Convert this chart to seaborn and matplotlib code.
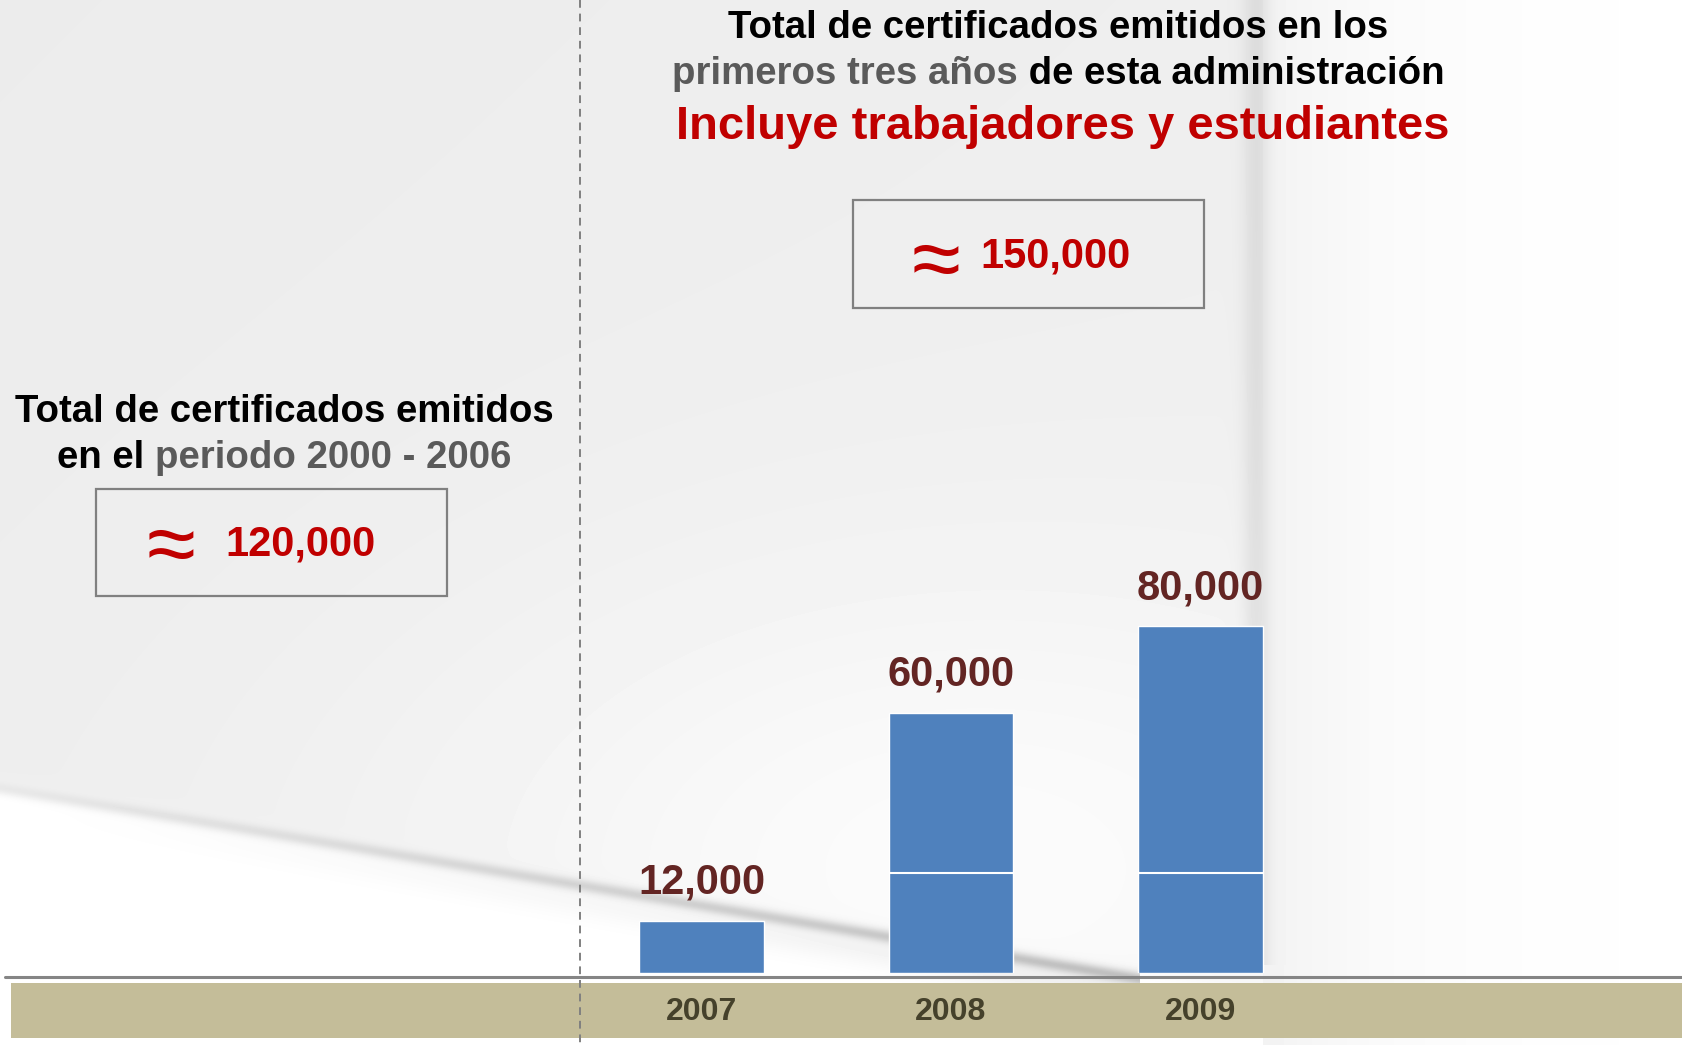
import numpy as np
import matplotlib
matplotlib.use("Agg")
import matplotlib.pyplot as plt
import seaborn as sns
from matplotlib.patches import Rectangle

# ---------------- data ----------------
years = ["2007", "2008", "2009"]
certificates = [12000, 60000, 80000]
split_level = 23000          # white division line seen inside the taller bars
prev_total_label = "120,000"  # 2000-2006
admin_total_label = "150,000"  # first three years

FONT = "Liberation Sans"
RED = "#c00000"
GRAY_TXT = "#5a5a5a"
BAR = "#4f81bd"
MAROON = "#632523"
OLIVE = "#45412b"
TAN = "#c4bd99"

W, H = 1682, 1045
sns.set_theme(style="white")
plt.rcParams["font.family"] = [FONT, "DejaVu Sans"]

fig = plt.figure(figsize=(W / 100, H / 100), dpi=100)

# ---------------- background (paper) ----------------
bg = fig.add_axes([0, 0, 1, 1], zorder=0)
X, Y = np.meshgrid(np.arange(W), np.arange(H))
val = 0.925 + 0.02 * np.clip((X + Y) / 2600, 0, 1)
val += 0.045 * np.exp(-(((X - 950) / 520) ** 2 + ((Y - 860) / 300) ** 2))
yd = 783 + (971 - 783) * X / 1126.0
s = 1 / (1 + np.exp(-(Y - yd) / 3.0))
val = val * (1 - s) + 1.0 * s
shadow = 0.22 * np.exp(-((Y - yd - 5) / 6.5) ** 2) * (0.35 + 0.65 * np.clip(X / 1126, 0, 1))
shadow += 0.06 * np.exp(-((Y - yd - 20) / 18.0) ** 2) * np.clip(X / 1126, 0, 1)
shadow *= (X < 1140)
val -= shadow
xf = 1262
right = X > xf
val = np.where(right, 1 - 0.05 * np.exp(-(X - xf) / 140.0), val)
fold = 0.07 * np.exp(-((X - xf + 6) / 14.0) ** 2) * (Y < 965)
val -= fold
val = np.clip(val, 0, 1)
bg.imshow(val, cmap="gray", vmin=0, vmax=1, extent=[0, W, H, 0], aspect="auto",
          interpolation="bilinear")
bg.set_xlim(0, W)
bg.set_ylim(H, 0)
bg.axis("off")

# tan band and baseline
bg.add_patch(Rectangle((11, 983), W - 11, 55, facecolor=TAN, edgecolor="none", zorder=2))
bg.plot([5, W], [977, 977], color="#858585", lw=2.2, zorder=3)
# dashed separator
bg.plot([580, 580], [0, H], color="#808080", lw=1.4, ls=(0, (4, 3)), zorder=4)

# boxes
for (x0, y0, x1, y1) in [(853, 200, 1204, 308), (96.5, 489, 447.3, 596)]:
    bg.add_patch(Rectangle((x0, y0), x1 - x0, y1 - y0, facecolor="none",
                           edgecolor="#808080", lw=1.6, zorder=3))

renderer = fig.canvas.get_renderer()


def multi_line(segments, cx, y, size):
    texts = []
    for txt, col in segments:
        t = bg.text(0, y, txt, color=col, fontsize=size, fontweight="bold",
                    family=FONT, va="baseline", ha="left", zorder=5)
        texts.append(t)
    widths = [t.get_window_extent(renderer).width for t in texts]
    x = cx - sum(widths) / 2
    for t, w in zip(texts, widths):
        t.set_x(x)
        x += w


multi_line([("Total de certificados emitidos en los", "black")], 1058, 37.5, 27.6)
multi_line([("primeros tres años", GRAY_TXT), (" de esta administración", "black")], 1058, 84, 27.6)
multi_line([("Incluye trabajadores y estudiantes", RED)], 1063, 139, 33.9)
multi_line([("Total de certificados emitidos", "black")], 284, 421.5, 27.6)
multi_line([("en el ", "black"), ("periodo 2000 - 2006", GRAY_TXT)], 284, 467.5, 27.6)

# box contents
bg.text(936, 266, "≈", color=RED, fontsize=64, family=FONT,
        ha="center", va="center", zorder=5)
bg.text(980, 268, admin_total_label, color=RED, fontsize=30, fontweight="bold",
        family=FONT, ha="left", va="baseline", zorder=5)
bg.text(171, 551, "≈", color=RED, fontsize=64, family=FONT,
        ha="center", va="center", zorder=5)
bg.text(225, 555.5, prev_total_label, color=RED, fontsize=30, fontweight="bold",
        family=FONT, ha="left", va="baseline", zorder=5)

# ---------------- bar chart ----------------
px_per_unit = 0.004333
bottom_px = 973
ax = fig.add_axes([0, (H - bottom_px) / H, 1, bottom_px / H], zorder=1)
ax.patch.set_alpha(0)
sns.barplot(x=years, y=certificates, color=BAR, saturation=1, width=0.5, ax=ax)
ax.set_xlim(1 - 951 / 249.5, 1 + (W - 951) / 249.5)
ax.set_ylim(0, bottom_px / px_per_unit)
for p, v in zip(ax.patches, certificates):
    if v > split_level:
        ax.hlines(split_level, p.get_x(), p.get_x() + p.get_width(), color="white", lw=1.5)
ax.bar_label(ax.containers[0], labels=[f"{v:,}" for v in certificates], padding=13,
             fontsize=30, fontweight="bold", color=MAROON, family=FONT)
sns.despine(ax=ax, left=True, bottom=True, top=True, right=True)
ax.set_yticks([])
ax.set_xlabel("")
ax.set_ylabel("")
ax.tick_params(axis="x", length=0, pad=17, labelsize=23, labelcolor=OLIVE)
for lbl in ax.get_xticklabels():
    lbl.set_fontweight("bold")
    lbl.set_family(FONT)
ax.grid(False)

fig.savefig("out.png", dpi=100)
